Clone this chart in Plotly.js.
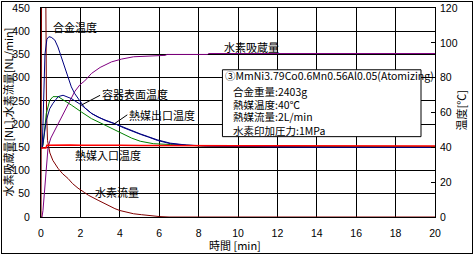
<!DOCTYPE html>
<html>
<head>
<meta charset="utf-8">
<script src="https://cdn.plot.ly/plotly-3.0.1.min.js"></script>
<style>
html,body{margin:0;padding:0;background:#fff;}
#wrap{position:relative;width:476px;height:258px;}
#chart{width:476px;height:258px;}
#frame{position:absolute;left:1px;top:1px;width:470px;height:251px;border:1px solid #000;pointer-events:none;}
</style>
</head>
<body>
<div id="wrap"><div id="chart"></div><div id="frame"></div></div>
<script>
// time axis values [min]
const xAbsorb = [0, 0.05, 0.1, 0.27, 0.36, 0.5, 0.7, 1.03, 1.37, 1.71, 1.98, 2.22, 2.56, 3.0, 3.58, 4.09, 4.7, 5.55, 6.3, 6.4, 8.45, 8.5, 20];
const absorbNL = [0, 0, 14, 93, 151, 170, 187, 215, 244, 270, 285, 293, 309, 322, 334, 340, 345, 347, 348, 350, 350, 352, 352];

const xFlow = [0, 0.03, 0.24, 0.28, 0.33, 0.38, 0.45, 0.6, 0.86, 1.1, 1.37, 1.6, 1.88, 2.2, 2.4, 2.9, 3.4, 3.75, 4.0, 4.4, 4.7, 5.1, 5.5, 6.0, 6.5, 20];
const flowNLmin = [0, 500, 500, 230, 165, 150, 138, 122, 105, 93, 83, 72, 62, 53, 47, 36, 25, 18, 14, 10, 7, 5, 3, 1, 0, 0];

const xAlloy = [0, 0.06, 0.1, 0.14, 0.2, 0.3, 0.4, 0.52, 0.7, 0.86, 1.03, 1.2, 1.37, 1.54, 1.71, 1.97, 2.22, 2.6, 2.9, 3.3, 3.75, 4.2, 4.6, 5.04, 5.45, 5.9, 6.56, 7.4, 8.4, 10, 12, 14, 16, 18, 20];
const alloyTempC = [39.5, 39.5, 53.3, 77.3, 93.3, 102.1, 103.5, 103.2, 101.6, 97.6, 92.0, 86.1, 80.5, 74.7, 70.9, 66.9, 62.7, 59.2, 57.3, 55.5, 53.6, 51.2, 49.3, 47.5, 45.9, 44.0, 42.1, 41.2, 40.8, 40.4, 40.3, 40.1, 40.0, 40.0, 40.0];

const xVessel = [0, 0.05, 0.1, 0.18, 0.27, 0.44, 0.61, 0.87, 1.12, 1.54, 2.05, 2.56, 3.24, 3.92, 4.6, 5.04, 5.45, 5.9, 6.56, 7.4, 8.4, 10, 12, 14, 16, 18, 20];
const vesselTempC = [39.5, 39.5, 42.1, 49.3, 55.5, 62.1, 65.3, 69.1, 69.9, 68.0, 64.3, 59.5, 55.5, 52.8, 49.6, 47.7, 46.1, 44.3, 42.4, 41.3, 40.8, 40.4, 40.3, 40.1, 40.0, 40.0, 40.0];

const xOutlet = [0, 0.05, 0.1, 0.18, 0.27, 0.44, 0.61, 0.87, 1.2, 1.54, 2.05, 2.56, 3.24, 3.92, 4.6, 5.04, 5.7, 6.56, 7.4, 8.24, 10, 12, 14, 16, 18, 20];
const outletTempC = [39.5, 39.5, 41.1, 50.7, 59.5, 66.9, 69.1, 69.1, 66.9, 64.3, 60.3, 56.5, 52.8, 49.1, 45.3, 43.5, 42.1, 41.6, 41.2, 40.8, 40.5, 40.4, 40.4, 40.4, 40.4, 40.4];

const xInlet = [0, 0.25, 0.3, 0.6, 1.0, 1.5, 2.0, 2.5, 3.0, 3.5, 4.0, 5.0, 6.0, 7.0, 8.0, 10, 12, 14, 16, 18, 20];
const inletTempC = [39.6, 39.6, 41.2, 41.3, 41.2, 41.4, 41.2, 41.3, 41.2, 41.3, 41.2, 41.1, 41.0, 41.0, 40.9, 40.9, 40.9, 40.8, 40.8, 40.8, 40.8];

const xTicks = [0, 2, 4, 6, 8, 10, 12, 14, 16, 18, 20];
const leftTicks = [0, 50, 100, 150, 200, 250, 300, 350, 400, 450];
const rightTicks = [0, 20, 40, 60, 80, 100, 120];

const infoLines = ["③MmNi3.79Co0.6Mn0.56Al0.05(Atomizing)", "合金重量:2403g", "熱媒温度:40℃", "熱媒流量:2L/min", "水素印加圧力:1MPa"];

const jp = '"Noto Sans CJK JP", sans-serif';
const ar = '"Liberation Sans", Arial, sans-serif';

const traces = [
  {x: xAbsorb, y: absorbNL, type: 'scatter', mode: 'lines', line: {color: '#800080', width: 1}, yaxis: 'y'},
  {x: xFlow, y: flowNLmin, type: 'scatter', mode: 'lines', line: {color: '#800000', width: 1}, yaxis: 'y'},
  {x: xOutlet, y: outletTempC, type: 'scatter', mode: 'lines', line: {color: '#008000', width: 1}, yaxis: 'y2'},
  {x: xVessel, y: vesselTempC, type: 'scatter', mode: 'lines', line: {color: '#000080', width: 1}, yaxis: 'y2'},
  {x: xAlloy, y: alloyTempC, type: 'scatter', mode: 'lines', line: {color: '#000080', width: 1}, yaxis: 'y2'},
  {x: xInlet, y: inletTempC, type: 'scatter', mode: 'lines', line: {color: '#ff0000', width: 1.5}, yaxis: 'y2'}
];

function lab(text, x, y, size, anchor) {
  return {text: text, x: x, y: y, xref: 'x', yref: 'y', showarrow: false, xanchor: anchor || 'left', yanchor: 'middle',
          font: {family: jp, size: size || 11, color: '#000'}};
}

const annotations = [
  lab('合金温度', 0.51, 410),
  lab('容器表面温度', 3.0, 265),
  lab('熱媒出口温度', 4.38, 220),
  lab('熱媒入口温度', 1.63, 133),
  lab('水素流量', 2.65, 53),
  lab('水素吸蔵量', 9.2, 365),
  lab(infoLines[0], 9.24, 305, 10.5),
  lab(infoLines[1], 9.62, 270, 10.5),
  lab(infoLines[2], 9.62, 243, 10.5),
  lab(infoLines[3], 9.62, 216, 10.5),
  lab(infoLines[4], 9.62, 187, 10.5),
  {text: '水素吸蔵量[NL],水素流量[NL/min]', xref: 'paper', yref: 'paper', x: -0.086, y: 0.5, textangle: -90,
   showarrow: false, xanchor: 'center', yanchor: 'middle', font: {family: jp, size: 11, color: '#000'}},
  {text: '温度[℃]', xref: 'paper', yref: 'paper', x: 1.066, y: 0.51, textangle: -90,
   showarrow: false, xanchor: 'center', yanchor: 'middle', font: {family: jp, size: 11, color: '#000'}},
  {text: '時間 [min]', xref: 'paper', yref: 'paper', x: 0.492, y: -0.134,
   showarrow: false, xanchor: 'center', yanchor: 'middle', font: {family: jp, size: 11, color: '#000'}}
];

const shapes = [
  {type: 'rect', xref: 'x', yref: 'y', x0: 9.21, x1: 19.29, y0: 173, y1: 317, fillcolor: '#fff', line: {color: '#000', width: 1}, layer: 'above'},
  {type: 'line', xref: 'x', yref: 'y', x0: 3.0, y0: 262, x1: 2.05, y1: 241, line: {color: '#000', width: 1}},
  {type: 'line', xref: 'x', yref: 'y', x0: 4.38, y0: 220, x1: 3.7, y1: 200, line: {color: '#000', width: 1}}
];

const axisCommon = {showgrid: true, gridcolor: '#000', gridwidth: 1, showline: true, linecolor: '#000', linewidth: 1,
  mirror: true, zeroline: false, ticks: '', tickfont: {family: ar, size: 10.5, color: '#000'}, fixedrange: true};

const layout = {
  width: 476, height: 258,
  margin: {l: 41, r: 41, t: 8, b: 41, pad: 0},
  paper_bgcolor: '#fff', plot_bgcolor: '#fff',
  showlegend: false,
  xaxis: Object.assign({}, axisCommon, {range: [0, 20], tickvals: xTicks, ticktext: xTicks.map(String), ticklabelstandoff: 6}),
  yaxis: Object.assign({}, axisCommon, {range: [0, 450], tickvals: leftTicks, ticktext: leftTicks.map(String), ticklabelstandoff: 8}),
  yaxis2: {overlaying: 'y', side: 'right', range: [0, 120], tickvals: rightTicks, ticktext: rightTicks.map(String),
    showgrid: false, zeroline: false, showline: false, ticks: 'inside', ticklen: 4, tickcolor: '#000',
    tickfont: {family: ar, size: 10.5, color: '#000'}, ticklabelstandoff: 4, fixedrange: true},
  annotations: annotations,
  shapes: shapes
};

Plotly.newPlot('chart', traces, layout, {displayModeBar: false, staticPlot: true});
</script>
</body>
</html>
